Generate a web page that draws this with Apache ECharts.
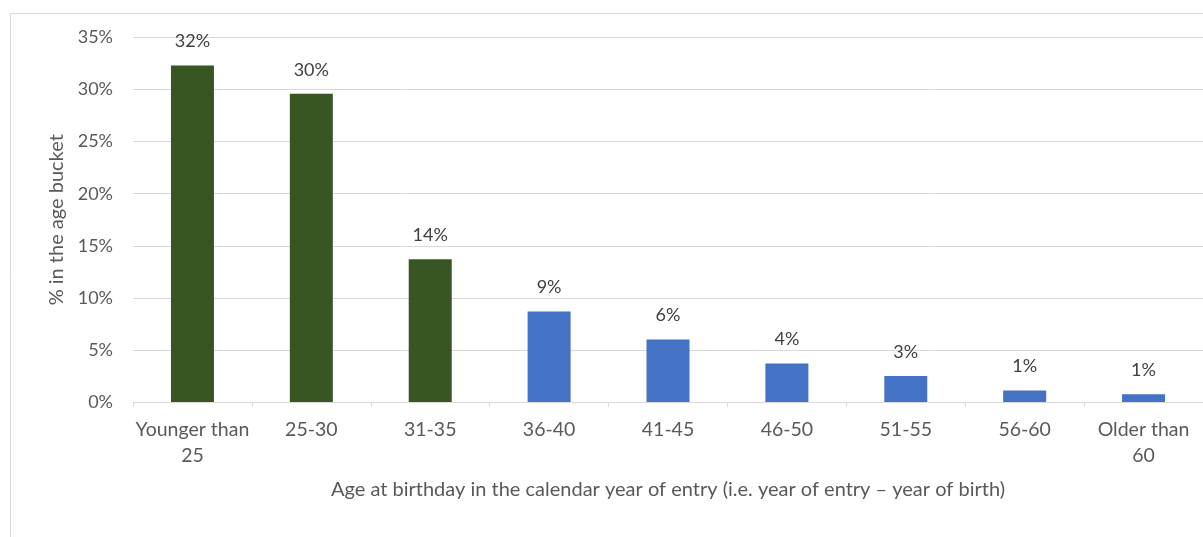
<!DOCTYPE html>
<html>
<head>
<meta charset="utf-8">
<script src="https://cdn.jsdelivr.net/npm/echarts@6/dist/echarts.min.js"></script>
<style>
  html, body { margin: 0; padding: 0; background: #ffffff; }
  #chart { width: 1203px; height: 537px; }
</style>
</head>
<body>
<div id="chart"></div>
<script>
// Age buckets at entry and share of entrants in each (percent)
const categories = ['Younger than\n25', '25-30', '31-35', '36-40', '41-45', '46-50', '51-55', '56-60', 'Older than\n60'];
const shares = [32.3, 29.6, 13.7, 8.7, 6.0, 3.7, 2.5, 1.1, 0.75];
// First three buckets are highlighted in green, the rest in blue
const highlighted = [true, true, true, false, false, false, false, false, false];
const yTicks = { min: 0, max: 35, interval: 5 };

const GREEN = '#375623';
const BLUE = '#4472C4';
const FONT = 'Lato, "Open Sans", sans-serif';
const GRID = '#d9d9d9';

const chart = echarts.init(document.getElementById('chart'), null, { renderer: 'canvas' });

chart.setOption({
  animation: false,
  backgroundColor: '#ffffff',
  textStyle: { fontFamily: FONT },
  graphic: [{
    type: 'rect',
    shape: { x: 10.5, y: 13.5, width: 1220, height: 560 },
    style: { fill: 'none', stroke: GRID, lineWidth: 1 },
    silent: true,
    z: -1
  }],
  grid: { left: 133, right: 0, top: 37.5, bottom: 135, containLabel: false },
  xAxis: {
    type: 'category',
    data: categories,
    name: 'Age at birthday in the calendar year of entry (i.e. year of entry \u2013 year of birth)',
    nameLocation: 'middle',
    nameGap: 78,
    nameTextStyle: { color: '#595959', fontSize: 20, fontFamily: FONT },
    axisLine: { lineStyle: { color: GRID, width: 1 } },
    axisTick: { show: true, length: 5, lineStyle: { color: GRID } },
    axisLabel: {
      interval: 0, color: '#595959', fontSize: 19.5, fontFamily: FONT,
      lineHeight: 26, margin: 15
    },
    splitLine: { show: false }
  },
  yAxis: {
    type: 'value',
    min: yTicks.min, max: yTicks.max, interval: yTicks.interval,
    name: '% in the age bucket',
    nameLocation: 'middle',
    nameGap: 63,
    nameRotate: 90,
    nameTextStyle: { color: '#595959', fontSize: 20, fontFamily: FONT },
    axisLine: { show: false },
    axisTick: { show: false },
    axisLabel: { formatter: '{value}%', color: '#595959', fontSize: 18, fontFamily: FONT, margin: 20 },
    splitLine: { lineStyle: { color: GRID, width: 1 } }
  },
  series: [{
    type: 'bar',
    barWidth: 43,
    data: shares.map((v, i) => ({
      value: v,
      itemStyle: { color: highlighted[i] ? GREEN : BLUE }
    })),
    label: {
      show: true,
      position: 'top',
      distance: 15,
      color: '#404040',
      fontSize: 18,
      fontFamily: FONT,
      formatter: p => Math.round(p.value) + '%'
    }
  }]
});
</script>
</body>
</html>
